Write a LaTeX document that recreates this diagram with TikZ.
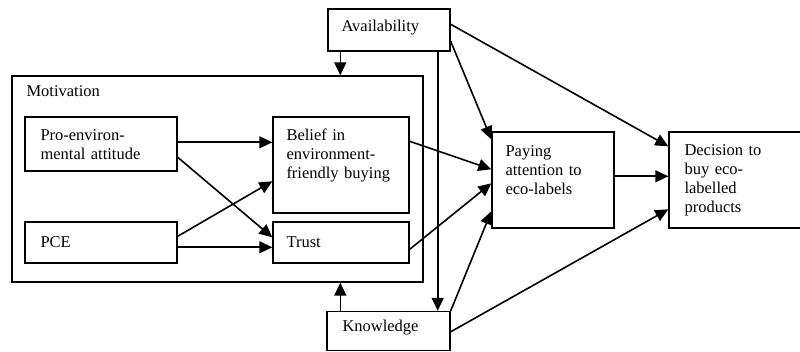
\documentclass[tikz,border=0pt]{standalone}
\usepackage{fontspec}
\setmainfont{Liberation Serif}
\usetikzlibrary{arrows.meta,calc}
\begin{document}
\begin{tikzpicture}[x=1pt,y=-1pt,
		box/.style={draw,line width=1.4pt,inner sep=0pt},
		txt/.style={anchor=base west,align=left,text width=150pt,inner sep=0pt,font=\fontsize{16.5}{19}\selectfont},
		arr/.style={line width=1.6pt,-{Triangle[length=13pt,width=12pt]}}]
		\useasboundingbox (0,0) rectangle (800,352);
		
		% boxes
		\node[box,minimum width=411pt,minimum height=206pt] (mot) at (217.5,179) {};
		\node[box,minimum width=152pt,minimum height=54pt] (pro) at (101,144) {};
		\node[box,minimum width=136pt,minimum height=96pt] (belief) at (341,165) {};
		\node[box,minimum width=152pt,minimum height=41pt] (pce) at (101,242.5) {};
		\node[box,minimum width=136pt,minimum height=41pt] (trust) at (341,242.5) {};
		\node[box,minimum width=122pt,minimum height=42pt] (avail) at (389,30) {};
		\node[box,minimum width=123pt,minimum height=39pt] (know) at (388.5,331) {};
		\node[box,minimum width=122pt,minimum height=96pt] (paying) at (553,180) {};
		\node[box,minimum width=133pt,minimum height=96pt] (decision) at (735.5,180) {};
		
		% texts
		\node[txt] (mottxt) at ($(mot.north west)+(15,21)$) {Motivation};
		\node[txt] (protxt) at ($(pro.north west)+(16,24)$) {Pro-environ-\\mental attitude};
		\node[txt] (belieftxt) at ($(belief.north west)+(14,24)$) {Belief in\\environment-\\friendly buying};
		\node[txt] (pcetxt) at ($(pce.north west)+(16,26)$) {PCE};
		\node[txt] (trusttxt) at ($(trust.north west)+(14,26)$) {Trust};
		\node[txt] (availtxt) at ($(avail.north west)+(14,23)$) {Availability};
		\node[txt] (knowtxt) at ($(know.north west)+(16,21)$) {Knowledge};
		\node[txt] (payingtxt) at ($(paying.north west)+(14,25)$) {Paying\\attention to\\eco-labels};
		\node[txt] (decisiontxt) at ($(decision.north west)+(16,24)$) {Decision to\\buy eco-\\labelled\\products};
		
		% inside motivation
		\draw[arr] ($(pro.north east)+(0,26)$) -- ($(belief.north west)+(0,26)$);
		\draw[arr] ($(pro.north east)+(0,41)$) -- ($(trust.north west)+(0,16)$);
		\draw[arr] ($(pce.north east)+(0,15)$) -- ($(belief.north west)+(0,65)$);
		\draw[arr] ($(pce.north east)+(0,26)$) -- ($(trust.north west)+(0,26)$);
		
		% availability and knowledge
		\coordinate (a1) at ($(avail.south west)+(13,0)$);
		\coordinate (k1) at ($(know.north west)+(14,0)$);
		\draw[arr] (a1) -- (a1 |- mot.north);
		\draw[arr] (k1) -- (k1 |- mot.south);
		\draw[arr] ($(avail.south east)+(-13,0)$) -- ($(know.north east)+(-13,0)$);
		\draw[arr] ($(avail.north east)+(0,33)$) -- ($(paying.north west)+(0,8)$);
		\draw[arr] ($(avail.north east)+(0,16)$) -- ($(decision.north west)+(0,15)$);
		\draw[arr] (know.north east) -- ($(paying.north west)+(0,80)$);
		\draw[arr] ($(know.north east)+(0,21)$) -- ($(decision.north west)+(0,78)$);
		
		% to paying attention and decision
		\draw[arr] ($(belief.north east)+(0,25)$) -- ($(paying.north west)+(0,38)$);
		\draw[arr] ($(trust.north east)+(0,28)$) -- ($(paying.north west)+(0,52)$);
		\draw[arr] ($(paying.north east)+(0,45)$) -- ($(decision.north west)+(0,45)$);
	\end{tikzpicture}
\end{document}
